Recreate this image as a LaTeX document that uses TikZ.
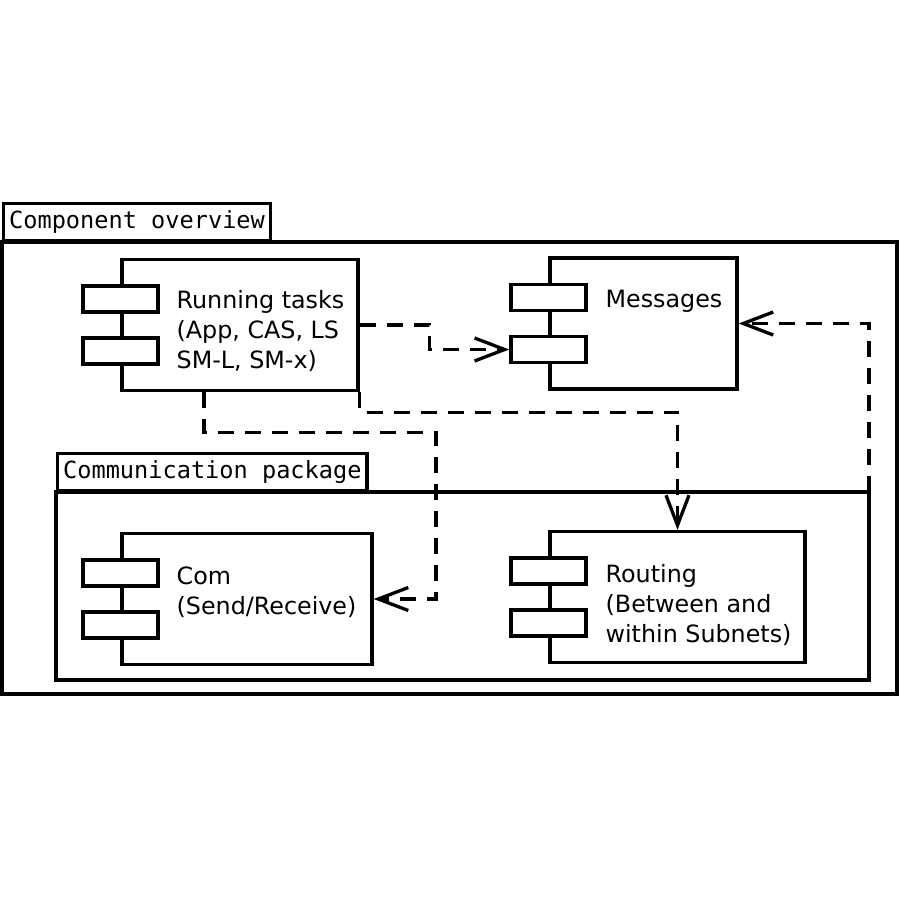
\documentclass[tikz,border=0pt]{standalone}
\usepackage{fontspec}
\setmainfont{DejaVu Sans}
\setmonofont{DejaVu Sans Mono}
\usetikzlibrary{arrows.meta}

\begin{document}
\begin{tikzpicture}[x=1pt, y=-1pt, line width=3.3pt,
  frame/.style={draw=black, anchor=north west, inner sep=0pt, outer sep=0pt},
  tab/.style={draw=black, anchor=south west, minimum height=37pt, inner xsep=5.5pt, inner ysep=0pt, font=\ttfamily\fontsize{23.6}{30}\selectfont},
  comp/.style={draw=black, minimum height=131pt},
  port/.style={draw=black, fill=white, minimum width=75pt, minimum height=26pt, inner sep=0pt},
  txt/.style={anchor=north west, inner sep=0pt, align=left, font=\fontsize{23.8}{30}\selectfont},
  dep/.style={dash pattern=on 16pt off 11pt, -{Straight Barb[length=30pt, width=23pt]}}]
  \def\gap{26}

  \useasboundingbox (0,0) rectangle (900,900);

  \node[frame, minimum width=895pt, minimum height=452pt] (overview) at (2,242) {};
  \node[tab] (overviewtab) at (overview.north west) {Component overview};
  \node[frame, minimum width=813pt, minimum height=188pt] (pkg) at (56,492) {};
  \node[tab] (pkgtab) at (pkg.north west) {Communication package};

  \node[comp, minimum width=236pt] (run) at (240,325) {};
  \node[comp, minimum width=187pt] (msg) at (643.5,323.5) {};
  \node[comp, minimum width=250pt] (com) at (247,599) {};
  \node[comp, minimum width=255pt] (rout) at (677.5,597) {};

  \node[port] (runa) at ([yshift=\gap pt]run.west) {};
  \node[port] (runb) at ([yshift=-\gap pt]run.west) {};
  \node[port] (msga) at ([yshift=\gap pt]msg.west) {};
  \node[port] (msgb) at ([yshift=-\gap pt]msg.west) {};
  \node[port] (coma) at ([yshift=\gap pt]com.west) {};
  \node[port] (comb) at ([yshift=-\gap pt]com.west) {};
  \node[port] (routa) at ([yshift=\gap pt]rout.west) {};
  \node[port] (routb) at ([yshift=-\gap pt]rout.west) {};

  \node[txt] (runtxt) at (175,289) {Running tasks\\(App, CAS, LS\\SM-L, SM-x)};
  \node[txt] (msgtxt) at (604,288) {Messages};
  \node[txt] (comtxt) at (175,565) {Com\\(Send/Receive)};
  \node[txt] (routtxt) at (604,563) {Routing\\(Between and\\within Subnets)};

  \draw[dep] (run.east) -- ++(70,0) |- (msgb.west);
  \draw[dep] ([xshift=-36pt]run.south) -- ++(0,40) -- ++(232,0) |- (com.east);
  \draw[dep] (run.south east) -- ++(0,20) -| (rout.north);
  \draw[dep] (pkg.north east) |- (msg.east);
\end{tikzpicture}
\end{document}
